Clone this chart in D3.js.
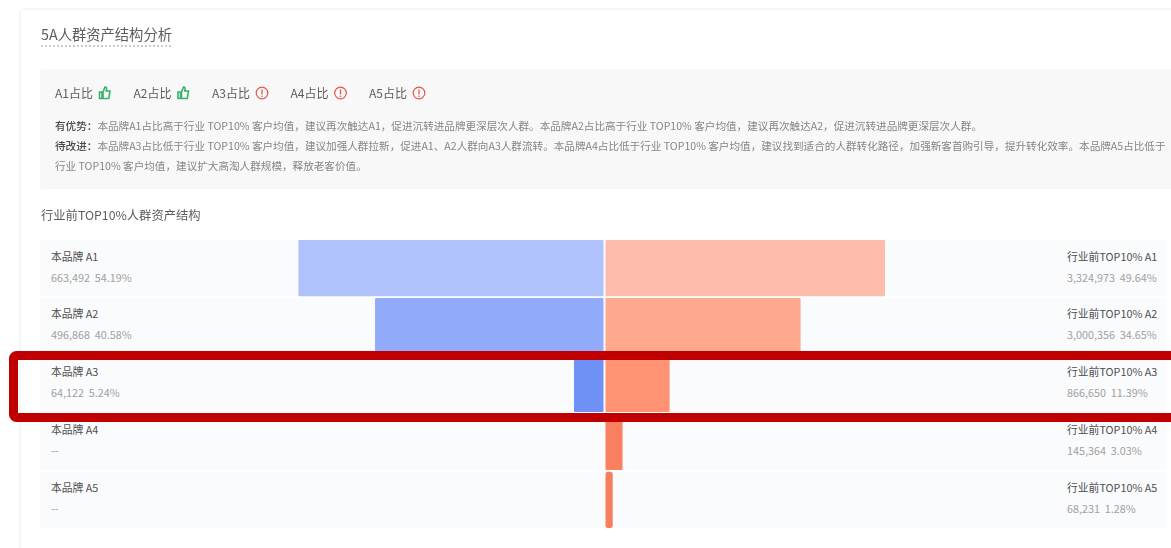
<!DOCTYPE html>
<html>
<head>
<meta charset="utf-8">
<title>5A人群资产结构分析</title>
<script src="https://d3js.org/d3.v7.min.js"></script>
<style>
    html, body { margin: 0; padding: 0; background: #ffffff; overflow: hidden; }
    svg { display: block; font-family: "Noto Sans CJK SC", "Noto Sans", sans-serif; }
    text { white-space: pre; }
    .soft { filter: blur(0.5px); }
    .dark { fill: #4f4f4f; }
    .grey { fill: #a0a0a0; }
</style>
</head>
<body>
<div id="chart"></div>
<script>
    // values
    var levels = ["A1", "A2", "A3", "A4", "A5"];
    var brandCounts = ["663,492", "496,868", "64,122", null, null];
    var brandShares = [54.19, 40.58, 5.24, null, null];
    var industryCounts = ["3,324,973", "3,000,356", "866,650", "145,364", "68,231"];
    var industryShares = [49.64, 34.65, 11.39, 3.03, 1.28];
    var statusGood = [true, true, false, false, false];

    var brandColors = ["#afc2fb", "#91aafa", "#6f90f4", "#6f90f4", "#6f90f4"];
    var industryColors = ["#fdbcab", "#fea88e", "#fe9272", "#fb8060", "#f87d5c"];

    var summary = [
        ["有优势：", "本品牌A1占比高于行业 TOP10% 客户均值，建议再次触达A1，促进沉转进品牌更深层次人群。本品牌A2占比高于行业 TOP10% 客户均值，建议再次触达A2，促进沉转进品牌更深层次人群。"],
        ["待改进：", "本品牌A3占比低于行业 TOP10% 客户均值，建议加强人群拉新，促进A1、A2人群向A3人群流转。本品牌A4占比低于行业 TOP10% 客户均值，建议找到适合的人群转化路径，加强新客首购引导，提升转化效率。本品牌A5占比低于"],
        ["", "行业 TOP10% 客户均值，建议扩大高淘人群规模，释放老客价值。"]
    ];

    var width = 1171, height = 548;

    var svg = d3.select("#chart").append("svg")
        .attr("width", width)
        .attr("height", height);

    var page = svg.append("g").attr("class", "soft");

    // card outline
    page.append("rect")
        .attr("x", 20).attr("y", 9)
        .attr("width", 1200).attr("height", 600)
        .attr("rx", 5)
        .attr("fill", "#ffffff")
        .attr("stroke", "#eeeeee");

    page.append("text")
        .attr("x", 41).attr("y", 40)
        .attr("font-size", 14.3)
        .attr("fill", "#5c5c5c")
        .text("5A人群资产结构分析");

    page.append("line")
        .attr("x1", 41).attr("x2", 171)
        .attr("y1", 46).attr("y2", 46)
        .attr("stroke", "#999999")
        .attr("stroke-dasharray", "2,2");

    // summary panel
    page.append("rect")
        .attr("x", 40).attr("y", 69)
        .attr("width", 1160).attr("height", 120)
        .attr("rx", 4)
        .attr("fill", "#f8f8f8");

    var legendX = d3.scalePoint().domain(levels).range([55, 369]);

    var legend = page.selectAll(".legend-item")
        .data(levels)
        .enter()
        .append("g")
        .attr("class", "legend-item")
        .attr("transform", function(d) { return "translate(" + legendX(d) + ",93)"; });

    legend.append("text")
        .attr("y", 5)
        .attr("font-size", 12)
        .attr("fill", "#5c5c5c")
        .text(function(d) { return d + "占比"; });

    legend.each(function(d, i) {
        var icon = d3.select(this).append("g").attr("transform", "translate(44,0)");
        if (statusGood[i]) {
            icon.append("path")
                .attr("d", "M0.5,-1 H3 V5.5 H0.5 Z M4,-1 L6,-6 Q8,-6 7.5,-3.5 L7.2,-2 H11 L9.8,5.5 H4 Z")
                .attr("fill", "none")
                .attr("stroke", "#35b36a")
                .attr("stroke-width", 1.6);
        } else {
            icon.append("circle")
                .attr("cx", 6).attr("r", 5.8)
                .attr("fill", "none")
                .attr("stroke", "#e0574a")
                .attr("stroke-width", 1.2);
            icon.append("line")
                .attr("x1", 6).attr("x2", 6)
                .attr("y1", -3.5).attr("y2", 1.5)
                .attr("stroke", "#e0574a")
                .attr("stroke-width", 1.3);
            icon.append("circle")
                .attr("cx", 6).attr("cy", 3.3).attr("r", 0.8)
                .attr("fill", "#e0574a");
        }
    });

    var lines = page.selectAll(".summary-line")
        .data(summary)
        .enter()
        .append("text")
        .attr("class", "summary-line")
        .attr("x", 55)
        .attr("y", function(d, i) { return 130 + i * 20; })
        .attr("font-size", 10.6)
        .attr("fill", "#858585");

    lines.append("tspan")
        .attr("fill", "#4a4a4a")
        .attr("font-weight", 500)
        .text(function(d) { return d[0]; });

    lines.append("tspan")
        .text(function(d) { return d[1]; });

    page.append("text")
        .attr("x", 41).attr("y", 220)
        .attr("font-size", 12.3)
        .attr("fill", "#5c5c5c")
        .text("行业前TOP10%人群资产结构");

    // funnel
    var y = d3.scaleBand()
        .domain(levels)
        .range([240, 528])
        .paddingInner(0.03);

    var share = d3.scaleLinear().domain([0, 100]).range([0, 563]);

    var axisLeft = 603.5, axisRight = 605.5;

    var rows = page.selectAll(".row")
        .data(levels)
        .enter()
        .append("g")
        .attr("class", "row")
        .attr("transform", function(d) { return "translate(0," + y(d) + ")"; });

    rows.append("rect")
        .attr("x", 40)
        .attr("width", 1126)
        .attr("height", y.bandwidth())
        .attr("fill", "#fafbfc");

    rows.filter(function(d, i) { return brandShares[i] !== null; })
        .append("rect")
        .attr("x", function(d) { return axisLeft - share(brandShares[levels.indexOf(d)]); })
        .attr("width", function(d) { return share(brandShares[levels.indexOf(d)]); })
        .attr("height", y.bandwidth())
        .attr("rx", 1)
        .attr("fill", function(d) { return brandColors[levels.indexOf(d)]; });

    rows.append("rect")
        .attr("x", axisRight)
        .attr("width", function(d, i) { return share(industryShares[i]); })
        .attr("height", y.bandwidth())
        .attr("rx", function(d, i) { return industryShares[i] < 2 ? 2.5 : 1; })
        .attr("fill", function(d, i) { return industryColors[i]; });

    rows.append("text")
        .attr("class", "dark")
        .attr("x", 51).attr("y", 20.5)
        .attr("font-size", 10.8)
        .text(function(d) { return "本品牌 " + d; });

    rows.append("text")
        .attr("class", "grey")
        .attr("x", 51).attr("y", 41.5)
        .attr("font-size", 10.8)
        .text(function(d, i) {
            return brandCounts[i] === null ? "--" : brandCounts[i] + "  " + brandShares[i].toFixed(2) + "%";
        });

    rows.append("text")
        .attr("class", "dark")
        .attr("x", 1067).attr("y", 20.5)
        .attr("font-size", 10.8)
        .text(function(d) { return "行业前TOP10% " + d; });

    rows.append("text")
        .attr("class", "grey")
        .attr("x", 1067).attr("y", 41.5)
        .attr("font-size", 10.8)
        .text(function(d, i) { return industryCounts[i] + "  " + industryShares[i].toFixed(2) + "%"; });

    // red highlight around the A3 row
    svg.append("rect")
        .attr("x", 13.5).attr("y", 355.5)
        .attr("width", 1200).attr("height", 62)
        .attr("rx", 3)
        .attr("fill", "none")
        .attr("stroke", "#c00000")
        .attr("stroke-width", 9);
</script>
</body>
</html>
